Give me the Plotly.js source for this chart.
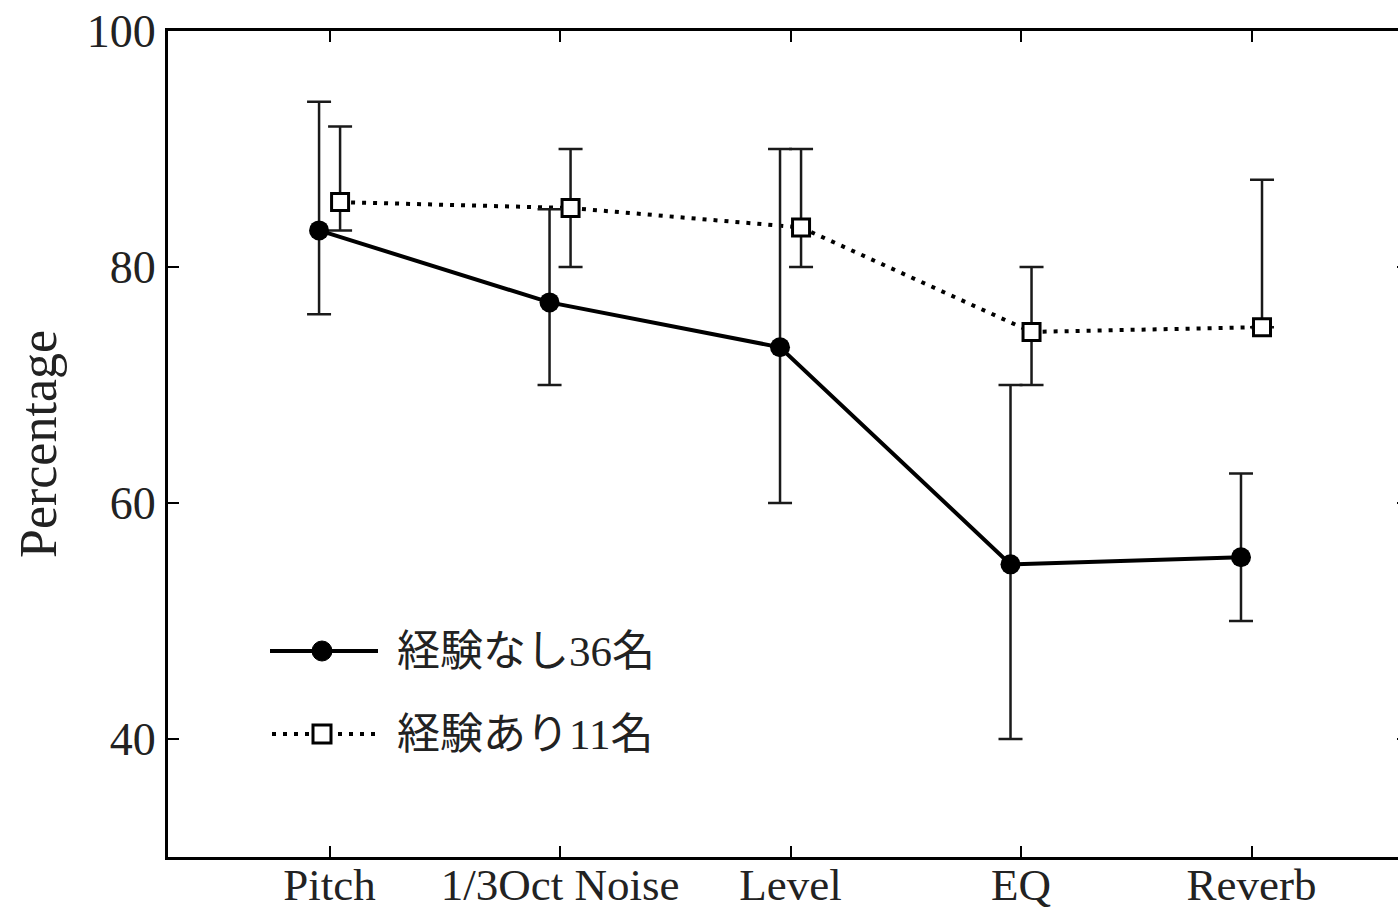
<!DOCTYPE html>
<html>
<head>
<meta charset="utf-8">
<script src="https://cdn.plot.ly/plotly-3.0.1.min.js"></script>
<style>
html, body { margin: 0; padding: 0; background: #fff; overflow: hidden; }
#chart { width: 1410px; height: 909px; }
</style>
</head>
<body>
<div id="chart"></div>
<script>
// ---- data ----
const categories = ["Pitch", "1/3Oct Noise", "Level", "EQ", "Reverb"];
const seriesNames = ["経験なし36名", "経験あり11名"];

const noneMean  = [83.1, 77.0, 73.2, 54.8, 55.4];
const noneUpper = [94.0, 84.9, 90.0, 70.0, 62.5];
const noneLower = [76.0, 70.0, 60.0, 40.0, 50.0];

const expMean  = [85.5, 85.0, 83.35, 74.5, 74.9];
const expUpper = [91.9, 90.0, 90.0, 80.0, 87.4];
const expLower = [83.1, 80.0, 80.0, 70.0, 74.9];

const yTickVals = [40, 60, 80, 100];

// ---- helpers ----
const idx = categories.map((c, i) => i);
const dodge = 0.0456;
const plus = (up, m) => up.map((v, i) => +(v - m[i]).toFixed(3));
const minus = (lo, m) => lo.map((v, i) => +(m[i] - v).toFixed(3));

const errStyle = {color: '#1a1a1a', thickness: 2.5, width: 12};

const traceNone = {
  type: 'scatter', mode: 'lines+markers', name: seriesNames[0],
  x: idx.map(i => i - dodge), y: noneMean,
  line: {color: '#000', width: 4},
  marker: {symbol: 'circle', size: 20, color: '#000'},
  error_y: Object.assign({type: 'data', symmetric: false,
    array: plus(noneUpper, noneMean), arrayminus: minus(noneLower, noneMean)}, errStyle),
  showlegend: false, cliponaxis: false
};
const traceExp = {
  type: 'scatter', mode: 'lines+markers', name: seriesNames[1],
  x: idx.map(i => i + dodge), y: expMean,
  line: {color: '#000', width: 4, dash: '4px,7px'},
  marker: {symbol: 'square', size: 17, color: '#fff', line: {color: '#000', width: 3}},
  error_y: Object.assign({type: 'data', symmetric: false,
    array: plus(expUpper, expMean), arrayminus: minus(expLower, expMean)}, errStyle),
  showlegend: false, cliponaxis: false
};

// ---- plot geometry (pixels) ----
const W = 1410, H = 909;
const M = {l: 168, r: 2, t: 31, b: 52};
const pw = W - M.l - M.r, ph = H - M.t - M.b;
const px = v => (v - M.l) / pw;
const py = v => (H - M.b - v) / ph;

const serif = '"Liberation Serif", "Times New Roman", serif';
const cjk = '"Liberation Serif", "Noto Sans CJK JP", serif';

// custom legend
const legRows = [651, 734];
const shapes = [
  {type: 'line', xref: 'paper', yref: 'paper', x0: px(270), x1: px(378), y0: py(legRows[0]), y1: py(legRows[0]),
   line: {color: '#000', width: 4}},
  {type: 'circle', xref: 'paper', yref: 'paper', x0: px(312), x1: px(332), y0: py(legRows[0] + 10), y1: py(legRows[0] - 10),
   fillcolor: '#000', line: {color: '#000', width: 1}},
  {type: 'line', xref: 'paper', yref: 'paper', x0: px(272), x1: px(376), y0: py(legRows[1]), y1: py(legRows[1]),
   line: {color: '#000', width: 4, dash: '4px,7px'}},
  {type: 'rect', xref: 'paper', yref: 'paper', x0: px(313), x1: px(331), y0: py(legRows[1] + 9), y1: py(legRows[1] - 9),
   fillcolor: '#fff', line: {color: '#000', width: 3}}
];
const annotations = seriesNames.map((n, i) => ({
  xref: 'paper', yref: 'paper', x: px(395), y: py(legRows[i]), xanchor: 'left', yanchor: 'middle',
  text: n, showarrow: false, font: {family: cjk, size: 43, color: '#222'}
}));

const layout = {
  width: W, height: H,
  margin: M,
  paper_bgcolor: '#fff', plot_bgcolor: '#fff',
  showlegend: false,
  font: {family: serif, color: '#222'},
  xaxis: {
    range: [-0.701, 4.679],
    tickmode: 'array', tickvals: idx, ticktext: categories,
    ticks: 'inside', ticklen: 11, tickwidth: 2, tickcolor: '#000',
    ticklabelstandoff: -14,
    showline: true, linecolor: '#000', linewidth: 3, mirror: 'ticks',
    showgrid: false, zeroline: false,
    tickfont: {family: serif, size: 45, color: '#222'},
    fixedrange: true
  },
  yaxis: {
    range: [30, 100],
    tickmode: 'array', tickvals: yTickVals,
    ticks: 'inside', ticklen: 11, tickwidth: 2, tickcolor: '#000',
    showline: true, linecolor: '#000', linewidth: 3, mirror: 'ticks',
    showgrid: false, zeroline: false,
    tickfont: {family: serif, size: 46, color: '#222'},
    title: {text: 'Percentage', font: {family: serif, size: 52, color: '#222'}, standoff: 14},
    fixedrange: true
  },
  shapes: shapes,
  annotations: annotations
};

Plotly.newPlot('chart', [traceExp, traceNone], layout, {displayModeBar: false, staticPlot: true});
</script>
</body>
</html>
